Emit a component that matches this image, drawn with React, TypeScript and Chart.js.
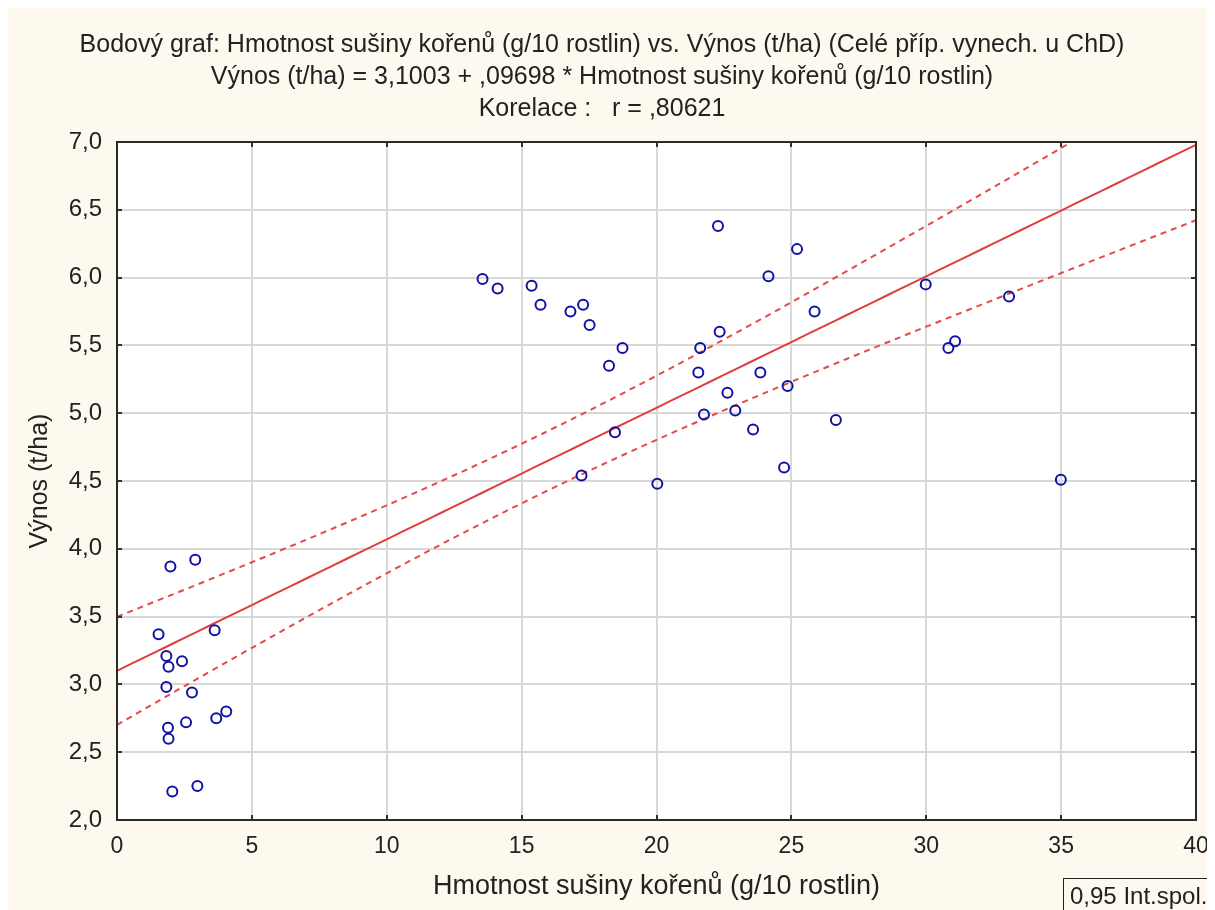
import { useEffect, useRef } from 'react';
import { Chart, registerables } from 'chart.js';

Chart.register(...registerables);

const TITLE_LINES = [
  'Bodový graf: Hmotnost sušiny kořenů (g/10 rostlin) vs. Výnos (t/ha) (Celé příp. vynech. u ChD)',
  'Výnos (t/ha) = 3,1003 + ,09698 * Hmotnost sušiny kořenů (g/10 rostlin)',
  'Korelace :   r = ,80621',
];
const X_TITLE = 'Hmotnost sušiny kořenů (g/10 rostlin)';
const Y_TITLE = 'Výnos (t/ha)';
const BOX_TEXT = '0,95 Int.spol.';

// root dry mass (g/10 plants)
const xValues = [
  1.54, 1.98, 2.9, 1.83, 1.91, 2.41, 3.62, 1.83, 2.78, 3.68, 4.05, 2.56, 1.89, 1.91, 2.05, 2.98,
  13.55, 14.11, 15.37, 15.7, 16.81, 17.28, 17.52, 18.74, 18.24, 18.46, 17.22, 20.03,
  22.28, 25.21, 24.15, 25.86, 22.34, 21.62, 21.55, 23.85, 22.63, 24.86, 22.92, 21.76, 23.58, 26.65, 24.73,
  29.98, 33.07, 30.82, 31.07, 34.99,
];
// yield (t/ha)
const yValues = [
  3.37, 3.87, 3.92, 3.21, 3.13, 3.17, 3.4, 2.98, 2.94, 2.75, 2.8, 2.72, 2.68, 2.6, 2.21, 2.25,
  5.99, 5.92, 5.94, 5.8, 5.75, 5.8, 5.65, 5.48, 5.35, 4.86, 4.54, 4.48,
  6.38, 6.21, 6.01, 5.75, 5.6, 5.48, 5.3, 5.3, 5.15, 5.2, 5.02, 4.99, 4.88, 4.95, 4.6,
  5.95, 5.86, 5.48, 5.53, 4.51,
];

const INTERCEPT = 3.1003;
const SLOPE = 0.09698;
const T_CRIT = 2.0129; // t(0.975, n-2)

const X_MIN = 0, X_MAX = 40, X_STEP = 5;
const Y_MIN = 2, Y_MAX = 7, Y_STEP = 0.5;

const FONT = "'Liberation Sans', Arial, sans-serif";
const TEXT_COLOR = '#222';
const BG = '#fdf9ee';

export default function App() {
  const ref = useRef<HTMLCanvasElement>(null);

  useEffect(() => {
    if (!ref.current) return;
    const n = xValues.length;
    const xm = xValues.reduce((a, b) => a + b, 0) / n;
    const sxx = xValues.reduce((a, x) => a + (x - xm) * (x - xm), 0);
    const sse = xValues.reduce((a, x, i) => {
      const r = yValues[i] - (INTERCEPT + SLOPE * x);
      return a + r * r;
    }, 0);
    const s = Math.sqrt(sse / (n - 2));
    const curveX: number[] = [];
    for (let x = X_MIN; x <= X_MAX + 1e-9; x += 0.5) curveX.push(x);
    const hw = (x: number) => T_CRIT * s * Math.sqrt(1 / n + ((x - xm) * (x - xm)) / sxx);
    const fit = curveX.map((x) => ({ x, y: INTERCEPT + SLOPE * x }));
    const upper = curveX.map((x) => ({ x, y: INTERCEPT + SLOPE * x + hw(x) }));
    const lower = curveX.map((x) => ({ x, y: INTERCEPT + SLOPE * x - hw(x) }));
    const points = xValues.map((x, i) => ({ x, y: yValues[i] }));

    const xTickVals: number[] = [];
    for (let v = X_MIN; v <= X_MAX; v += X_STEP) xTickVals.push(v);
    const yTickVals: number[] = [];
    for (let v = Y_MIN; v <= Y_MAX + 1e-9; v += Y_STEP) yTickVals.push(v);

    const decor = {
      id: 'decor',
      beforeDraw(chart: any) {
        const { ctx, chartArea: a } = chart;
        ctx.save();
        ctx.fillStyle = BG;
        ctx.fillRect(0, 0, chart.width, chart.height);
        ctx.fillStyle = '#ffffff';
        ctx.fillRect(a.left, a.top, a.right - a.left, a.bottom - a.top);
        ctx.restore();
      },
      afterDraw(chart: any) {
        const { ctx, chartArea: a, scales } = chart;
        ctx.save();
        ctx.strokeStyle = '#333';
        ctx.lineWidth = 2;
        ctx.beginPath();
        yTickVals.forEach((v) => {
          const py = Math.round(scales.y.getPixelForValue(v));
          ctx.moveTo(a.left, py); ctx.lineTo(a.left + 5, py);
          ctx.moveTo(a.right - 5, py); ctx.lineTo(a.right, py);
        });
        xTickVals.forEach((v) => {
          const px = Math.round(scales.x.getPixelForValue(v));
          ctx.moveTo(px, a.bottom); ctx.lineTo(px, a.bottom - 5);
          ctx.moveTo(px, a.top); ctx.lineTo(px, a.top + 5);
        });
        ctx.stroke();
        ctx.strokeStyle = '#2a2a2a';
        ctx.strokeRect(a.left, a.top, a.right - a.left, a.bottom - a.top);
        // info box
        ctx.lineWidth = 1;
        ctx.strokeStyle = '#222';
        ctx.strokeRect(1055.5, 870.5, 170, 50);
        ctx.fillStyle = TEXT_COLOR;
        ctx.font = `24px ${FONT}`;
        ctx.textBaseline = 'middle';
        ctx.textAlign = 'left';
        ctx.fillText(BOX_TEXT, 1062, 889);
        ctx.restore();
      },
    };

    const chart = new Chart(ref.current, {
      type: 'scatter',
      data: {
        datasets: [
          {
            label: 'data',
            data: points,
            pointRadius: 5,
            pointBorderWidth: 2,
            pointBorderColor: '#1212a0',
            pointBackgroundColor: 'rgba(0,0,0,0)',
            pointStyle: 'circle',
          },
          {
            label: 'fit',
            data: fit,
            showLine: true,
            pointRadius: 0,
            borderColor: '#e23c3c',
            borderWidth: 2,
            clip: 0,
          },
          {
            label: 'upper',
            data: upper,
            showLine: true,
            pointRadius: 0,
            borderColor: '#e44a4a',
            borderWidth: 2,
            borderDash: [6, 5],
            clip: 0,
          },
          {
            label: 'lower',
            data: lower,
            showLine: true,
            pointRadius: 0,
            borderColor: '#e44a4a',
            borderWidth: 2,
            borderDash: [6, 5],
            clip: 0,
          },
        ] as any,
      },
      options: {
        animation: false,
        responsive: false,
        devicePixelRatio: 1,
        layout: { padding: { left: 0, right: 19, top: 0, bottom: 0 } },
        plugins: {
          legend: { display: false },
          tooltip: { enabled: false },
          title: {
            display: true,
            text: TITLE_LINES,
            color: TEXT_COLOR,
            font: { family: FONT, size: 25, weight: 'normal', lineHeight: 1.28 },
            padding: { top: 21, bottom: 17 },
          },
        },
        scales: {
          x: {
            type: 'linear',
            min: X_MIN,
            max: X_MAX,
            afterFit(scale: any) {
              scale.height = 90;
              scale.paddingLeft = 0;
              scale.paddingRight = 0;
            },
            ticks: {
              stepSize: X_STEP,
              color: TEXT_COLOR,
              font: { family: FONT, size: 23 },
              padding: 13,
              maxRotation: 0,
              callback: (v: any) => String(v),
            },
            grid: { color: '#d8d8d8', lineWidth: 2, drawTicks: false },
            border: { display: false },
            title: {
              display: true,
              text: X_TITLE,
              color: TEXT_COLOR,
              font: { family: FONT, size: 27, lineHeight: 1.2 },
              padding: { top: 0, bottom: 7 },
            },
          },
          y: {
            type: 'linear',
            min: Y_MIN,
            max: Y_MAX,
            afterFit(scale: any) {
              scale.width = 109;
              scale.paddingTop = 0;
              scale.paddingBottom = 0;
            },
            ticks: {
              stepSize: Y_STEP,
              color: TEXT_COLOR,
              font: { family: FONT, size: 24 },
              padding: 15,
              callback: (v: any) => Number(v).toFixed(1).replace('.', ','),
            },
            grid: { color: '#d8d8d8', lineWidth: 2, drawTicks: false },
            border: { display: false },
            title: {
              display: true,
              text: Y_TITLE,
              color: TEXT_COLOR,
              font: { family: FONT, size: 25, lineHeight: 1.2 },
              padding: { top: 17, bottom: 0 },
            },
          },
        },
      },
      plugins: [decor],
    });
    return () => chart.destroy();
  }, []);

  return (
    <div style={{ width: 1207, height: 902 }}>
      <canvas ref={ref} width={1207} height={902} style={{ display: 'block', width: 1207, height: 902 }} />
    </div>
  );
}
